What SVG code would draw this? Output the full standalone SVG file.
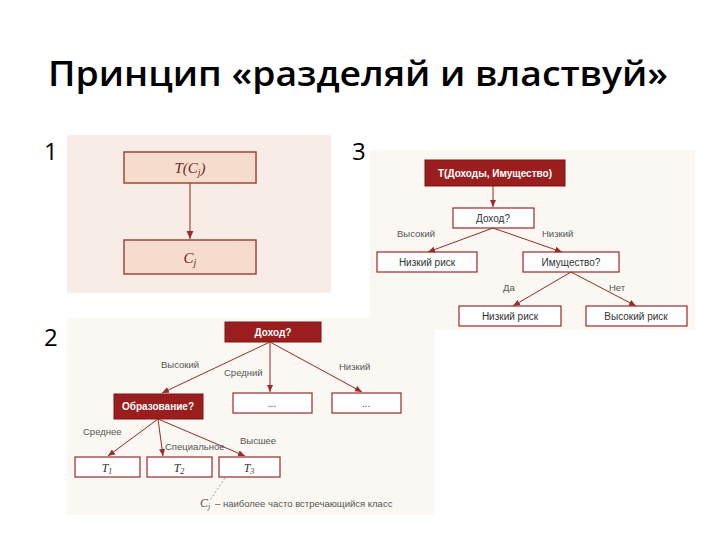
<svg xmlns="http://www.w3.org/2000/svg" width="720" height="540" viewBox="0 0 720 540">
<style>
.t{font-family:"Liberation Sans",Arial,sans-serif}
.bx{fill:#fff;stroke:#9b2a2a;stroke-width:1.2}
.dk{fill:#9b1e1e;stroke:#7a1515}
.ln{stroke:#9b2a2a;stroke-width:1;fill:none;marker-end:url(#a)}
.lb{font-family:"Liberation Sans",Arial,sans-serif;font-size:9.5px;fill:#555}
.nt{font-family:"Liberation Sans",Arial,sans-serif;font-size:10px;fill:#333;text-anchor:middle}
.wt{font-family:"Liberation Sans",Arial,sans-serif;font-size:10px;font-weight:bold;fill:#fff;text-anchor:middle}
</style>
<defs><marker id="a" markerWidth="8" markerHeight="8" refX="7" refY="4" orient="auto"><path d="M0,1 L7,4 L0,7 z" fill="#9b2a2a"/></marker></defs>
<rect width="720" height="540" fill="#fff"/>
<text x="48" y="86" font-size="35" font-weight="600" textLength="620" lengthAdjust="spacingAndGlyphs" fill="#000" font-family="'Open Sans','Noto Sans',sans-serif">Принцип «разделяй и властвуй»</text>
<text x="44" y="160" font-size="24" font-family="'Open Sans',sans-serif">1</text>
<text x="352" y="160" font-size="24" font-family="'Open Sans',sans-serif">3</text>
<text x="44" y="346" font-size="24" font-family="'Open Sans',sans-serif">2</text>
<!-- panel 1 -->
<rect x="67" y="135" width="264" height="158" fill="#f7ede6"/>
<g id="p1root"><rect x="124" y="152" width="132" height="31" fill="#f5dccc" stroke="#a0473a" stroke-width="1.5"/><text x="190" y="173" font-family="Liberation Serif,serif" font-style="italic" font-size="15" text-anchor="middle" fill="#6a2a20">T(C<tspan font-size="10" dy="3">j</tspan><tspan dy="-3">)</tspan></text></g>
<g id="p1leaf"><rect x="124" y="240" width="132" height="34" fill="#f5dccc" stroke="#a0473a" stroke-width="1.5"/><text x="190" y="263" font-family="Liberation Serif,serif" font-style="italic" font-size="15" text-anchor="middle" fill="#6a2a20">C<tspan font-size="10" dy="3">j</tspan></text></g>
<!-- panel 3 -->
<rect x="370" y="150" width="325" height="180" fill="#fbf7f3"/>
<g id="p3root"><rect x="425" y="160" width="140" height="26" class="dk"/><text class="wt" x="495" y="177">T(Доходы, Имущество)</text></g>
<g id="p3inc"><rect x="453" y="208" width="81" height="20" class="bx"/><text class="nt" x="493" y="222">Доход?</text></g>
<g id="p3lr1"><rect x="377" y="252" width="100" height="20" class="bx"/><text class="nt" x="427" y="266">Низкий риск</text></g>
<g id="p3prop"><rect x="523" y="252" width="96" height="20" class="bx"/><text class="nt" x="571" y="266">Имущество?</text></g>
<g id="p3lr2"><rect x="459" y="306" width="102" height="20" class="bx"/><text class="nt" x="510" y="320">Низкий риск</text></g>
<g id="p3hr"><rect x="586" y="306" width="101" height="20" class="bx"/><text class="nt" x="636" y="320">Высокий риск</text></g>
<!-- panel 2 -->
<rect x="67" y="318" width="368" height="197" fill="#fbf7f3"/>
<g id="p2root"><rect x="225" y="322" width="96" height="20" class="dk"/><text class="wt" x="273" y="336">Доход?</text></g>
<g id="p2edu"><rect x="114" y="394" width="89" height="25" class="dk"/><text class="wt" x="158" y="410">Образование?</text></g>
<g id="p2mid"><rect x="233" y="393" width="79" height="20" class="bx"/><text class="nt" x="272" y="407" fill="#ccc">...</text></g>
<g id="p2low"><rect x="332" y="393" width="69" height="20" class="bx"/><text class="nt" x="366" y="407" fill="#ccc">...</text></g>
<g id="p2t1"><rect x="75" y="457" width="65" height="20" class="bx"/><text x="107" y="472" font-family="Liberation Serif,serif" font-style="italic" font-size="12" text-anchor="middle" fill="#333">T<tspan font-size="8" dy="2">1</tspan></text></g>
<g id="p2t2"><rect x="147" y="457" width="65" height="20" class="bx"/><text x="179" y="472" font-family="Liberation Serif,serif" font-style="italic" font-size="12" text-anchor="middle" fill="#333">T<tspan font-size="8" dy="2">2</tspan></text></g>
<g id="p2t3"><rect x="219" y="457" width="61" height="20" class="bx"/><text x="249" y="472" font-family="Liberation Serif,serif" font-style="italic" font-size="12" text-anchor="middle" fill="#333">T<tspan font-size="8" dy="2">3</tspan></text></g>
<g id="connectors">
<line x1="190" y1="183" x2="190" y2="239" stroke="#a0473a" stroke-width="1.2" marker-end="url(#a)"/>
<line class="ln" x1="493" y1="186" x2="493" y2="207"/>
<line class="ln" x1="493" y1="228" x2="428" y2="252"/>
<line class="ln" x1="493" y1="228" x2="562" y2="252"/>
<line class="ln" x1="571" y1="272" x2="513" y2="306"/>
<line class="ln" x1="571" y1="272" x2="636" y2="306"/>
<line class="ln" x1="270" y1="342" x2="162" y2="393"/>
<line class="ln" x1="270" y1="342" x2="270" y2="392"/>
<line class="ln" x1="270" y1="342" x2="362" y2="392"/>
<line class="ln" x1="158" y1="419" x2="108" y2="456"/>
<line class="ln" x1="158" y1="419" x2="163" y2="456"/>
<line class="ln" x1="158" y1="419" x2="245" y2="456"/>
<line x1="225" y1="478" x2="210" y2="500" stroke="#888" stroke-width="0.8" stroke-dasharray="2,2"/>
</g>
<g id="labels">
<text class="lb" x="397" y="237">Высокий</text>
<text class="lb" x="542" y="237">Низкий</text>
<text class="lb" x="503" y="291">Да</text>
<text class="lb" x="609" y="291">Нет</text>
<text class="lb" x="161" y="368">Высокий</text>
<text class="lb" x="224" y="376">Средний</text>
<text class="lb" x="339" y="370">Низкий</text>
<text class="lb" x="83" y="435">Среднее</text>
<text class="lb" x="165" y="450">Специальное</text>
<text class="lb" x="240" y="444">Высшее</text>
<text x="200" y="507" font-family="Liberation Serif,serif" font-style="italic" font-size="12" fill="#555">C<tspan font-size="8" dy="2">j</tspan></text>
<text class="lb" x="215" y="507">– наиболее часто встречающийся класс</text>
</g>
</svg>
